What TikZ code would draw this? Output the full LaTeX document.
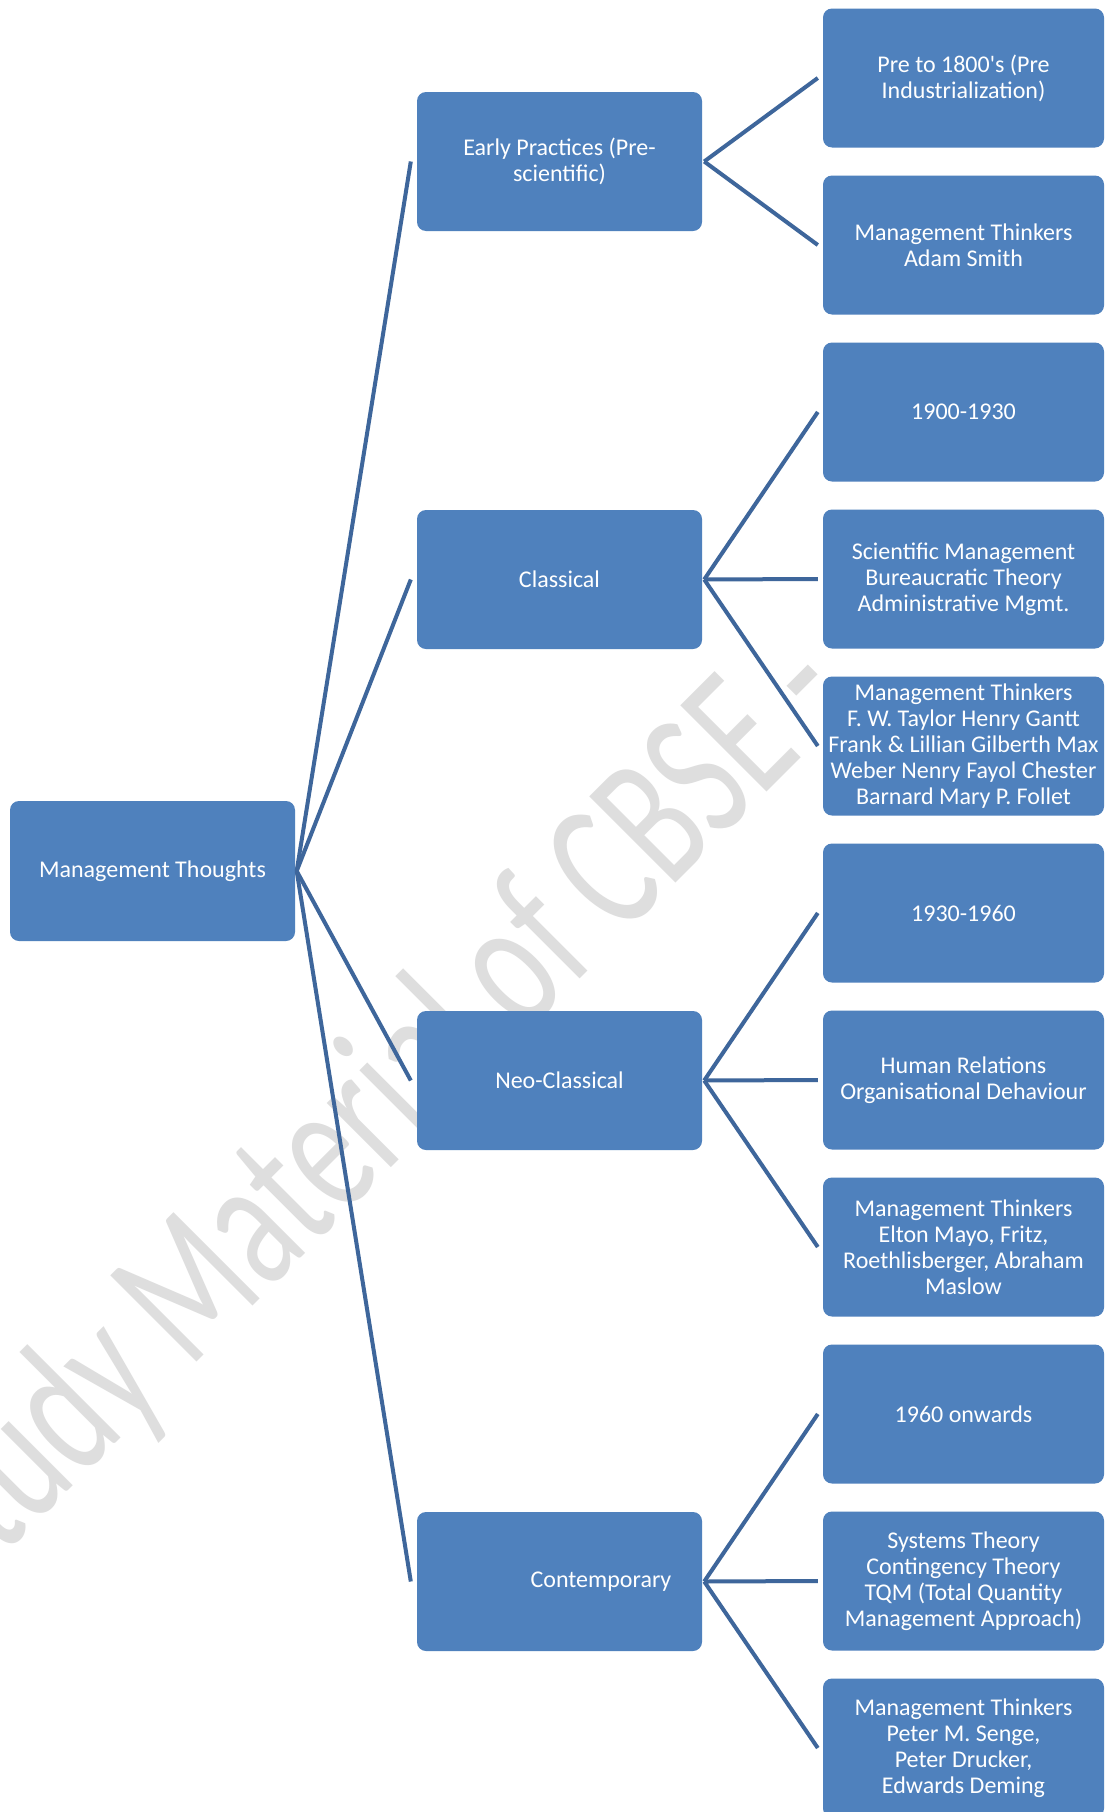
\documentclass[tikz,border=0pt]{standalone}
\usepackage{fontspec}
\setmainfont{Carlito}
\newfontfamily\wmfont{Carlito}
\definecolor{boxblue}{RGB}{79,129,189}
\definecolor{linkblue}{RGB}{62,102,155}
\definecolor{wmgray}{RGB}{222,222,222}
\tikzset{
  mbox/.style={rectangle, fill=boxblue, rounded corners=9pt, text=white, align=center,
    inner sep=0pt, minimum height=139pt, font=\fontsize{24}{26}\selectfont},
  midbox/.style={mbox, minimum width=285pt},
  rbox/.style={mbox, minimum width=281pt},
  conn/.style={draw=linkblue, line width=4pt},
  wmark/.style={text=wmgray, inner sep=0pt, anchor=base west, rotate=45,
    font=\wmfont\fontsize{190}{190}\selectfont}
}
\begin{document}
\begin{tikzpicture}[x=1pt,y=-1pt]
\frenchspacing
\useasboundingbox (0,0) rectangle (1105,1812);
\clip (0,0) rectangle (1105,1812);
\fill[white] (0,0) rectangle (1105,1812);
% watermark
\node[wmark] (wm) at (-41,1600) {\scalebox{0.68}[1]{Study Material of CBSE -}};
% nodes
\node[midbox, minimum height=140pt] (root) at (152.5,871) {Management Thoughts};
\node[midbox] (ep) at (559.5,161.5) {Early Practices (Pre-\\scientific)};
\node[midbox] (cl) at (559.5,579.5) {Classical};
\node[midbox] (nc) at (559.5,1080.5) {Neo-Classical};
\node[midbox] (ct) at (559.5,1581.5) {\hspace*{83pt}Contemporary};
\node[rbox] (r0) at (963.5,78) {Pre to 1800\textquotesingle s (Pre\\Industrialization)};
\node[rbox] (r1) at (963.5,245) {Management Thinkers\\Adam Smith};
\node[rbox] (r2) at (963.5,412) {1900-1930};
\node[rbox] (r3) at (963.5,579) {Scientific Management\\Bureaucratic Theory\\Administrative Mgmt.};
\node[rbox] (r4) at (963.5,746) {Management Thinkers\\F. W. Taylor Henry Gantt\\Frank \& Lillian Gilberth Max\\Weber Nenry Fayol Chester\\Barnard Mary P. Follet};
\node[rbox] (r5) at (963.5,913) {1930-1960};
\node[rbox] (r6) at (963.5,1080) {Human Relations\\Organisational Dehaviour};
\node[rbox] (r7) at (963.5,1247) {Management Thinkers\\Elton Mayo, Fritz,\\Roethlisberger, Abraham\\Maslow};
\node[rbox] (r8) at (963.5,1414) {1960 onwards};
\node[rbox] (r9) at (963.5,1581) {Systems Theory\\Contingency Theory\\TQM (Total Quantity\\Management Approach)};
\node[rbox] (r10) at (963.5,1748) {Management Thinkers\\Peter M. Senge,\\Peter Drucker,\\Edwards Deming};
% connectors
\begin{scope}[on background layer/.style={}]
\foreach \t in {ep,cl,nc,ct}
  \draw[conn] ([xshift=1.5pt]root.east) -- ([xshift=-6pt]\t.west);
\foreach \t in {r0,r1}
  \draw[conn] ([xshift=2pt]ep.east) -- ([xshift=-5pt]\t.west);
\foreach \t in {r2,r3,r4}
  \draw[conn] ([xshift=2pt]cl.east) -- ([xshift=-5pt]\t.west);
\foreach \t in {r5,r6,r7}
  \draw[conn] ([xshift=2pt]nc.east) -- ([xshift=-5pt]\t.west);
\foreach \t in {r8,r9,r10}
  \draw[conn] ([xshift=2pt]ct.east) -- ([xshift=-5pt]\t.west);
\end{scope}
\end{tikzpicture}
\end{document}
